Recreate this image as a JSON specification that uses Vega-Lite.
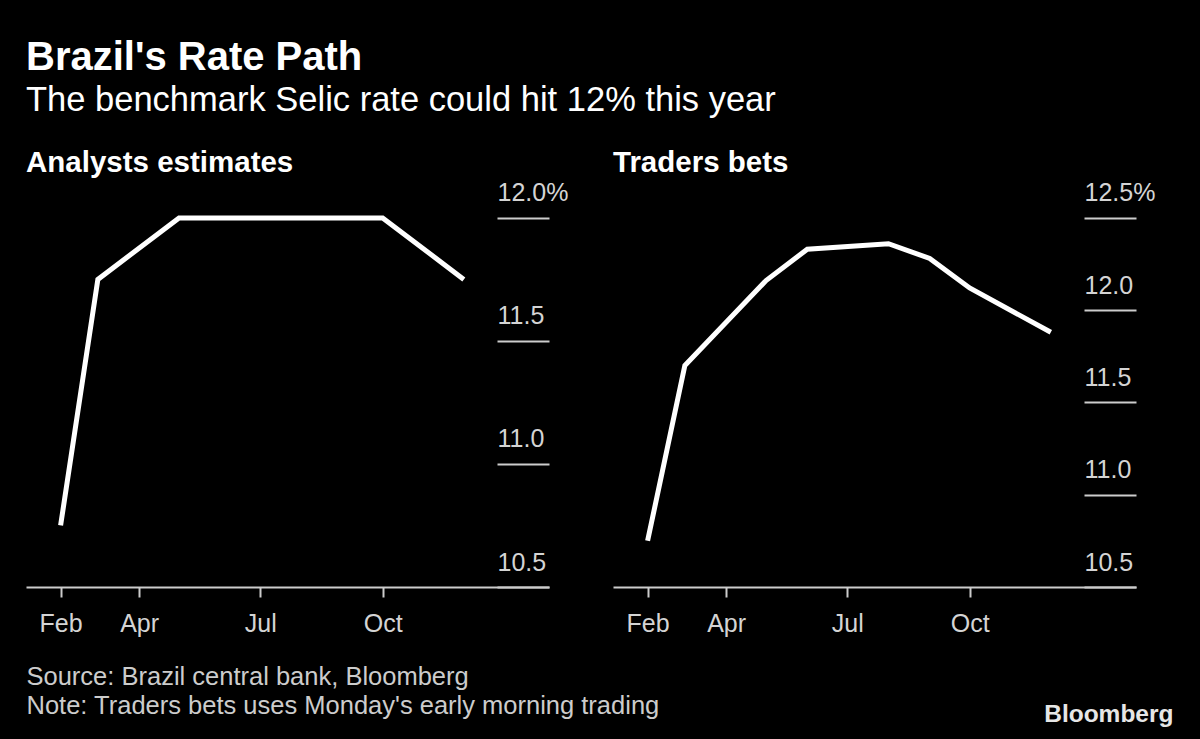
{
  "$schema": "https://vega.github.io/schema/vega-lite/v6.json",
  "background": "#000000",
  "padding": {"left": 26, "top": 38, "right": 40, "bottom": 30},
  "title": {
    "text": "Brazil's Rate Path",
    "subtitle": "The benchmark Selic rate could hit 12% this year",
    "anchor": "start",
    "color": "#ffffff",
    "subtitleColor": "#ffffff",
    "font": "Liberation Sans",
    "fontSize": 40,
    "fontWeight": "bold",
    "subtitleFont": "Liberation Sans",
    "subtitleFontSize": 34.5,
    "subtitleFontWeight": "normal",
    "subtitlePadding": 6,
    "offset": 30
  },
  "bounds": "flush",
  "spacing": 64,
  "datasets": {
    "analysts": [
      {"date": "2022/02/01", "rate": 10.75},
      {"date": "2022/03/01", "rate": 11.75},
      {"date": "2022/05/01", "rate": 12.0},
      {"date": "2022/06/01", "rate": 12.0},
      {"date": "2022/08/01", "rate": 12.0},
      {"date": "2022/09/01", "rate": 12.0},
      {"date": "2022/10/01", "rate": 12.0},
      {"date": "2022/12/01", "rate": 11.75}
    ],
    "traders": [
      {"date": "2022/02/01", "rate": 10.75},
      {"date": "2022/03/01", "rate": 11.70},
      {"date": "2022/05/01", "rate": 12.16},
      {"date": "2022/06/01", "rate": 12.33},
      {"date": "2022/08/01", "rate": 12.36},
      {"date": "2022/09/01", "rate": 12.28},
      {"date": "2022/10/01", "rate": 12.12},
      {"date": "2022/12/01", "rate": 11.88}
    ]
  },
  "hconcat": [
    {
      "width": 523,
      "height": 407,
      "title": {"text": "Analysts estimates", "anchor": "start", "frame": "group", "offset": 2},
      "data": {"name": "analysts"},
      "mark": {"type": "line", "color": "#ffffff", "strokeWidth": 5},
      "encoding": {
        "x": {
          "field": "date",
          "type": "temporal",
          "scale": {"domain": [{"year": 2022, "month": 1, "date": 6}, {"year": 2023, "month": 2, "date": 3}]},
          "axis": {
            "values": [{"year": 2022, "month": 2, "date": 1}, {"year": 2022, "month": 4, "date": 1}, {"year": 2022, "month": 7, "date": 1}, {"year": 2022, "month": 10, "date": 1}],
            "format": "%b",
            "title": ["Source: Brazil central bank, Bloomberg", "Note: Traders bets uses Monday's early morning trading"],
            "titleAnchor": "start",
            "titleAlign": "left",
            "titleBaseline": "top",
            "titleX": 0,
            "titleY": 77,
            "titleColor": "#cccccc",
            "titleFont": "Liberation Sans",
            "titleFontSize": 25.5,
            "titleFontWeight": "normal",
            "titleLineHeight": 29
          }
        },
        "y": {
          "field": "rate",
          "type": "quantitative",
          "scale": {"domain": [10.5, 12.154], "nice": false, "zero": false},
          "axis": {
            "orient": "right",
            "values": [10.5, 11.0, 11.5, 12.0],
            "labelExpr": "datum.value == 12 ? '12.0%' : format(datum.value, '.1f')",
            "title": null
          }
        }
      }
    },
    {
      "width": 523,
      "height": 407,
      "title": {"text": "Traders bets", "anchor": "start", "frame": "group", "offset": 2},
      "data": {"name": "traders"},
      "mark": {"type": "line", "color": "#ffffff", "strokeWidth": 5},
      "encoding": {
        "x": {
          "field": "date",
          "type": "temporal",
          "scale": {"domain": [{"year": 2022, "month": 1, "date": 6}, {"year": 2023, "month": 2, "date": 3}]},
          "axis": {
            "values": [{"year": 2022, "month": 2, "date": 1}, {"year": 2022, "month": 4, "date": 1}, {"year": 2022, "month": 7, "date": 1}, {"year": 2022, "month": 10, "date": 1}],
            "format": "%b",
            "title": "Bloomberg",
            "titleAlign": "right",
            "titleBaseline": "alphabetic",
            "titleX": 560,
            "titleY": 134,
            "titleColor": "#e6e6e6",
            "titleFont": "Liberation Sans",
            "titleFontSize": 24.5,
            "titleFontWeight": "bold"
          }
        },
        "y": {
          "field": "rate",
          "type": "quantitative",
          "scale": {"domain": [10.5, 12.705], "nice": false, "zero": false},
          "axis": {
            "orient": "right",
            "values": [10.5, 11.0, 11.5, 12.0, 12.5],
            "labelExpr": "datum.value == 12.5 ? '12.5%' : format(datum.value, '.1f')",
            "title": null
          }
        }
      }
    }
  ],
  "config": {
    "view": {"stroke": null},
    "title": {"font": "Liberation Sans", "fontSize": 29.5, "fontWeight": "bold", "color": "#ffffff"},
    "axisX": {
      "grid": false,
      "domainColor": "#cccccc",
      "domainWidth": 2,
      "tickColor": "#cccccc",
      "tickWidth": 2,
      "tickSize": 10,
      "labelColor": "#d4d4d4",
      "labelFont": "Liberation Sans",
      "labelFontSize": 25,
      "labelPadding": 14,
      "labelFlush": false,
      "labelOverlap": false
    },
    "axisY": {
      "grid": false,
      "domain": false,
      "ticks": true,
      "tickColor": "#cccccc",
      "tickWidth": 2,
      "tickSize": -52,
      "labelAlign": "left",
      "labelBaseline": "alphabetic",
      "labelOffset": -17,
      "labelPadding": 0,
      "labelColor": "#d4d4d4",
      "labelFont": "Liberation Sans",
      "labelFontSize": 25,
      "labelFlush": false,
      "labelOverlap": false
    }
  }
}
